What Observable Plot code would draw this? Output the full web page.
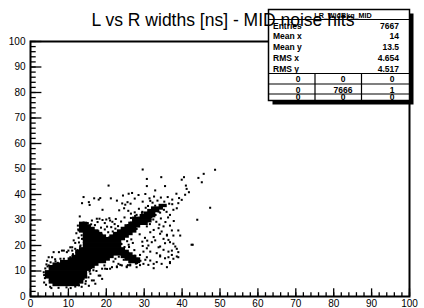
<!DOCTYPE html>
<html><head><meta charset="utf-8">
<script src="https://cdn.jsdelivr.net/npm/d3@7"></script>
<script src="https://cdn.jsdelivr.net/npm/@observablehq/plot@0.6"></script>
<style>
body{margin:0;background:#fff;}
#wrap{position:relative;width:424px;height:308px;overflow:hidden;background:#fff;font-family:"Liberation Sans",Arial,Helvetica,sans-serif;}
#chart{position:absolute;left:0;top:0;}
#over{position:absolute;left:0;top:0;}
</style></head>
<body>
<div id="wrap"><div id="chart"></div><svg id="over" width="424" height="308"></svg></div>
<script>
// ---- data ----
const title = "L vs R widths [ns] - MID noise hits";
const histName = "LR_WidBkg_MID";
const statLabels = ["Entries", "Mean x", "Mean y", "RMS x", "RMS y"];
const statValues = ["7667", "14", "13.5", "4.654", "4.517"];
const gridValues = [["0","0","0"],["0","7666","1"],["0","0","0"]];
const xMajor = [0,10,20,30,40,50,60,70,80,90,100];
const yMajor = [0,10,20,30,40,50,60,70,80,90,100];
const xMinor = d3.range(0, 101, 2);
const yMinor = d3.range(0, 101, 2);

// dense (saturated) bins: [y bin, x start, x end]
const denseRuns = [
 [4,6,13],[5,5,14],[6,5,14],[7,4,15],[8,4,15],[9,4,15],[10,5,16],[11,5,17],[12,6,18],
 [13,8,20],[13,26,29],[14,10,21],[14,25,29],[15,11,22],[15,24,28],[16,12,27],
 [17,12,26],[18,13,25],[19,14,24],[20,14,24],[21,14,24],[22,14,25],
 [23,14,20],[23,21,26],[24,14,19],[24,22,27],[25,13,18],[25,23,28],[26,13,17],[26,24,28],
 [27,13,16],[27,25,29],[28,13,15],[28,26,31],[29,27,32],[30,27,32],[31,29,33],[32,30,33],
 [33,31,34],[34,32,35],[35,34,36]
];
// isolated points [x, y]
const points = [
 [29.6,49.8],[34.5,46.8],[30.7,46.1],[48.7,49.7],[45.7,48.1],[45.2,44.8],[44.3,46.5],[40.5,46.8],[39.9,45.8],[41,43.5],[41.2,42.2],[41.8,40.9],[20.6,43.5],[30.7,43.3],[35.5,43.3],[32.9,41.6],[47.4,34.8],[44,30.1],[42.8,20.3],[14,39],[18.4,38.6],[18,38],[13.6,36.6],[15.4,37],[15.6,35.9],[16.8,38.5],[19,34],[21.2,38.5],
 [22.8,37.6],[24.4,39.6],[25.9,40.3],[26.8,40.6],[24.2,36.5],[25,36],[25.6,37],[26.4,36.4],[27.5,38.4],[28.5,39.8],[29.6,37.2],[30.3,40.2],[31.4,38.5],[32.6,39.2],[33.5,37.6],[34.4,38.8],[35.3,37.2],[36.2,39],[37.4,38],[38.5,40.3],[39.2,38.6],[40.8,39.9],[39.9,37.9],[39,36.6],[38.6,34.6],[37.7,34],[36.8,32],[31,35.5],[32.2,36.8],[31.6,37.5],[30.4,34.8],
 [23.4,33.8],[25.8,33.6],[26.5,32.5],[27.5,33],[28.6,34.4],[29.5,33.2],[30.8,32.3],[32,33.6],[33,34.5],[34.2,32.9],[35.2,34],[28,32],[24.7,34.6],
 [18.2,30.5],[19,30],[20,30.2],[21,29.8],[21.6,29.3],[23.9,29.4],[25.7,28],[26.5,29],[17.7,29.2],[19.6,28.8],[20.8,30.7],[22.5,30.4],[24.8,31],[22.2,28.4],[13,31.4],[14,29],[15,28.6],[16,28.3],[17,28],[15.1,28.8],[16.2,29.8],[17.5,30.5],
 [30.7,27.5],[32.5,26.1],[33.8,26.8],[34.6,25.5],[35.1,27.5],[33.2,29.3],[34.4,30.6],[35.6,29.2],[36.3,31],[32.4,30.2],[34,28.2],[36.8,27.8],[37.8,29.6],[33,32],
 [31.6,25.2],[32.5,23.3],[34.2,24.6],[35.1,22.6],[36,23.9],[37.3,25.9],[37.7,23.9],[39,25.9],[39.5,23.9],[36.8,21.3],[37.7,20.7],[38.6,18.7],[39,17.4],[37.3,18],[36.4,15.4],[37.7,14.8],[39,15.4],[36.8,13.5],[36,11.5],[34.6,12.8],[33.3,13.5],[32.5,12.8],[31.6,14.1],[30.7,15.4],[31.1,20],[32,21.3],[32.9,22],[33.8,19.3],[34.2,16.1],[42.5,20.3],[28,11.5],[29.8,12.8],[26.3,12.5],[36,24.2],[36.4,22.2],[35.5,20.9],[34.2,19.6],[35.1,18.3],[36.4,17.6],[37.3,16.3],[38.2,19.6],[38.6,15.7],[36.8,13.1],[35.5,15],[34.2,15.7],[33.3,17],[31.6,17.6],[30.7,18.9],[29.8,17.6],[28.9,16.3],[30.3,14.4],[31.1,12.4],[32.5,11.1],[28.1,13.1],[25.4,11.8],[24.6,14.4],[23.7,12.4],[22.8,11.8],[21.9,13.7],[29.5,21.5],[30.2,23],[28.8,24.4],[29.6,19.8],[30.8,21.9],
 [18.9,10.9],[19.7,10.9],[21,10.9],[23.2,12.8],[24.1,12.2],[25.4,11.5],[26.3,12.2],[18,8.2],[18.9,6.9],[17.1,5],[16.2,6.3],[14,6.9],[14.5,5],[15.8,8.9],[16.7,6.3],[18.4,8.2],[21.5,11.5],[22.8,11.5],[20.2,10.8],[25.7,12.3],[17.4,10],[16,11.2],[19.5,12.2],[15.4,4.2],[13.5,3.8],[9.5,3.6],[11.8,3.9],
 [7.5,17.4],[8.3,18],[9.6,17.4],[11,18],[11.8,18.7],[5.7,15.4],[8.8,14.8],[10.5,15.4],[3.5,9.5],[4.8,15.4],[6.1,17.4],[8.8,18],[7.9,14.8],[10.5,19.3],[13.2,20],[11.4,22],[13.6,22.6],[12.7,25.9],[12.5,27.8],[4.8,12.2],[4.4,14],[10,18],[11,19.3],[11.8,21],[12.7,23],[12.1,24.8],[13.2,27],[14,27.7],[4.5,11.8],[6.6,13.8],[3.8,7.2],[3.6,5.5],[5.2,3.8],[13.1,16.5],[12.3,14.2],
 [22.4,26.6],[23.1,27.6],[21.3,27.2],[20.5,25.2],[19.6,26.3],[18.6,27],[22,24.4],[20.8,23.2],[24,20.6],[25.5,21.7],[26.6,22.4],[26,19.4],[27.4,18.2],[25.8,17.2],[27.5,16],[28.2,14.8],[29,14],
 [4.2,12.6],[5.3,13.4],[6.5,14.6],[7.2,13.2],[3.9,11],[3.6,8.4],[4.1,4.6],[5.5,3.3],[7.4,3.4],[10.6,3.3],[12.8,4.4],[14.6,6],[15.3,7.5],[15.6,9.8],[16.6,10.3],[14.9,11.6],
 [11.2,16.6],[12.4,18.2],[13.1,19.6],[12.8,21.2],[13.5,24],[12.6,26.3],[17.6,23],[18.8,24.3],[19.5,22.6],[21.6,22.4],[17.9,25.6],[20.2,27.4],[21.7,25.5],[23.5,18.3],[24.9,16.2],[26.3,15.3],[25.3,14.6],[22.4,14.8],[21.5,16.4],[23.3,15.6],[28.9,12.3],[27.8,12.9],[24.8,19.4],[25.9,20.3],[27,21],[28,26.5],[31.5,28.4],[26.5,30.8],[27.6,31.6],[29.4,32.8],[31.9,31.1],[33.8,33.3],[35.5,35.6],[36.6,36.4],[37.4,36.2],[35.9,33.2],[32.9,35.6]
];

// ---- chart ----
const W = 424, H = 308, mL = 30, mR = 15, mT = 41, mB = 12;
const fw = W - mL - mR, fh = H - mT - mB;
const chart = Plot.plot({
  width: W, height: H,
  marginLeft: mL, marginRight: mR, marginTop: mT, marginBottom: mB,
  x: {domain: [0, 100]},
  y: {domain: [0, 100]},
  style: {fontFamily: '"Liberation Sans", Arial, Helvetica, sans-serif', fontSize: "10px", color: "black", background: "transparent"},
  marks: [
    Plot.rect(denseRuns, {x1: d => d[1], x2: d => d[2], y1: d => d[0], y2: d => d[0] + 1, fill: "black",
      insetTop: -0.4, insetBottom: -0.4, insetLeft: -0.3, insetRight: -0.3}),
    Plot.dot(points, {x: d => d[0], y: d => d[1], symbol: "square", r: 1.15, fill: "black"}),
    Plot.tickY(yMinor, {y: d => d, insetRight: fw - 5.7, strokeWidth: 1.3}),
    Plot.tickY(yMajor, {y: d => d, insetRight: fw - 11.4, strokeWidth: 1.3}),
    Plot.tickX(xMinor, {x: d => d, insetTop: fh - 3.8, strokeWidth: 1.3}),
    Plot.tickX(xMajor, {x: d => d, insetTop: fh - 7.65, strokeWidth: 1.3}),
    Plot.frame({stroke: "black", strokeWidth: 2}),
    Plot.axisY(yMajor, {tickSize: 0, tickPadding: 5, fontSize: 10}),
    Plot.axisX(xMajor, {tickSize: 0, tickPadding: 3, fontSize: 10})
  ]
});
document.getElementById("chart").appendChild(chart);

// ---- stats box + title overlay ----
const svg = d3.select("#over");
const bx = 268.5, by = 9.5, bw = 141, bh = 91;
svg.append("rect").attr("x", bx + 4).attr("y", by + 4).attr("width", bw).attr("height", bh).attr("fill", "black");
svg.append("rect").attr("x", bx).attr("y", by).attr("width", bw).attr("height", bh).attr("fill", "white").attr("stroke", "black").attr("stroke-width", 1.5);
svg.append("line").attr("x1", bx).attr("x2", bx + bw).attr("y1", 19.5).attr("y2", 19.5).attr("stroke", "black").attr("stroke-width", 1.2);
svg.append("text").attr("x", 343).attr("y", 17.5).attr("text-anchor", "middle")
  .attr("font-size", 7.2).attr("font-weight", "bold").text(histName);
const rowY = [29, 39, 50, 61, 72];
statLabels.forEach((l, i) => {
  svg.append("text").attr("x", 273).attr("y", rowY[i]).attr("font-size", 8.5).attr("font-weight", "bold").text(l);
  svg.append("text").attr("x", 399).attr("y", rowY[i]).attr("text-anchor", "end").attr("font-size", 8.5).attr("font-weight", "bold").text(statValues[i]);
});
[73.5, 84, 94].forEach(y => svg.append("line").attr("x1", bx).attr("x2", bx + bw).attr("y1", y).attr("y2", y).attr("stroke", "black").attr("stroke-width", 1.2));
[315, 361.5].forEach(x => svg.append("line").attr("x1", x).attr("x2", x).attr("y1", 73.5).attr("y2", by + bh).attr("stroke", "black").attr("stroke-width", 1.2));
const colX = [298, 343, 392], gridY = [82, 92.5, 100.3];
gridValues.forEach((row, r) => row.forEach((v, c) => {
  svg.append("text").attr("x", colX[c]).attr("y", gridY[r]).attr("text-anchor", "middle").attr("font-size", 8.5).attr("font-weight", "bold").text(v);
}));
svg.append("text").attr("x", 223).attr("y", 26).attr("text-anchor", "middle").attr("font-size", 17.5).text(title);
</script>
</body></html>
